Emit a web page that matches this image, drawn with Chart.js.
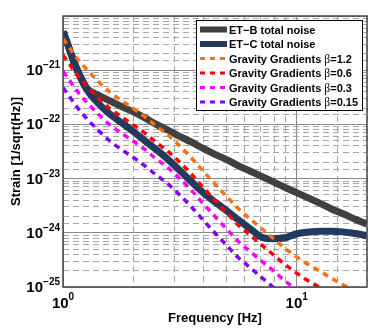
<!DOCTYPE html>
<html>
<head>
<meta charset="utf-8">
<script src="https://cdn.jsdelivr.net/npm/chart.js@4.4.1/dist/chart.umd.min.js"></script>
<style>
  html, body { margin: 0; padding: 0; background: #fff; }
  #wrap { width: 390px; height: 335px; }
</style>
</head>
<body>
<div id="wrap"><canvas id="chart-noise"></canvas></div>
<script>
// frequency grid [Hz]
const freqs = [1, 1.03, 1.06, 1.12, 1.26, 1.41, 1.58, 1.78, 2, 2.24, 2.51, 2.82, 3.16, 3.55, 3.98,
  4.47, 5.01, 5.62, 6.31, 7.08, 7.94, 8.91, 10, 11.2, 12.6, 14.1, 15.8, 17.8, 20];

// strain values
const etB = [5.2e-21, 3.7e-21, 2.6e-21, 1.35e-21, 4.8e-22, 3.5e-22, 2.75e-22, 2.14e-22, 1.7e-22, 1.32e-22,
  1.0e-22, 7.8e-23, 6.0e-23, 4.7e-23, 3.6e-23, 2.8e-23, 2.24e-23, 1.74e-23, 1.38e-23, 1.1e-23,
  8.7e-24, 6.9e-24, 5.5e-24, 4.4e-24, 3.5e-24, 2.75e-24, 2.24e-24, 1.78e-24, 1.45e-24];
const etC = [5.2e-21, 3.7e-21, 2.6e-21, 1.32e-21, 4.5e-22, 2.5e-22, 1.58e-22, 1.07e-22, 7.4e-23, 5.0e-23,
  3.4e-23, 2.24e-23, 1.41e-23, 8.7e-24, 5.5e-24, 3.7e-24, 2.57e-24, 1.74e-24, 1.2e-24, 8.3e-25,
  7.8e-25, 8.1e-25, 9.6e-25, 1.03e-24, 1.07e-24, 1.07e-24, 1.04e-24, 9.7e-25, 8.8e-25];
const gg12 = [3.8e-21, 3.2e-21, 2.7e-21, 1.9e-21, 1.05e-21, 6.3e-22, 4.0e-22, 2.75e-22, 1.95e-22, 1.38e-22,
  9.3e-23, 6.3e-23, 4.0e-23, 2.4e-23, 1.38e-23, 7.9e-24, 4.7e-24, 2.8e-24, 1.82e-24, 1.2e-24,
  7.9e-25, 5.2e-25, 3.6e-25, 2.6e-25, 1.95e-25, 1.45e-25, 1.1e-25, 8.3e-26, 6.3e-26];
const gg06 = [1.9e-21, 1.6e-21, 1.35e-21, 9.5e-22, 5.2e-22, 3.15e-22, 2.0e-22, 1.38e-22, 9.8e-23, 6.9e-23,
  4.6e-23, 3.15e-23, 2.0e-23, 1.2e-23, 6.9e-24, 3.95e-24, 2.35e-24, 1.4e-24, 9.1e-25, 6.0e-25,
  3.95e-25, 2.6e-25, 1.8e-25, 1.3e-25, 9.8e-26, 7.3e-26, 5.5e-26, 4.2e-26, 3.2e-26];
const gg03 = [9.5e-22, 8.0e-22, 6.8e-22, 4.75e-22, 2.6e-22, 1.58e-22, 1.0e-22, 6.9e-23, 4.9e-23, 3.45e-23,
  2.3e-23, 1.58e-23, 1.0e-23, 6.0e-24, 3.45e-24, 2.0e-24, 1.18e-24, 7.0e-25, 4.55e-25, 3.0e-25,
  2.0e-25, 1.3e-25, 9.0e-26, 6.5e-26, 4.9e-26, 3.6e-26, 2.75e-26, 2.1e-26, 1.6e-26];
const gg015 = [4.75e-22, 4.0e-22, 3.4e-22, 2.4e-22, 1.3e-22, 7.9e-23, 5.0e-23, 3.45e-23, 2.45e-23, 1.72e-23,
  1.16e-23, 7.9e-24, 5.0e-24, 3.0e-24, 1.72e-24, 9.9e-25, 5.9e-25, 3.5e-25, 2.3e-25, 1.5e-25,
  9.9e-26, 6.5e-26, 4.5e-26, 3.3e-26, 2.4e-26, 1.8e-26, 1.4e-26, 1.0e-26, 7.9e-27];

const labels = [
  'ET\u2212B total noise',
  'ET\u2212C total noise',
  'Gravity Gradients \u03b2=1.2',
  'Gravity Gradients \u03b2=0.6',
  'Gravity Gradients \u03b2=0.3',
  'Gravity Gradients \u03b2=0.15',
];
const series = [etB, etC, gg12, gg06, gg03, gg015];
const colors = ['#404040', '#233a5e', '#ff7010', '#ff0000', '#ff00ff', '#7f00ff'];
const yDecades = [-25, -24, -23, -22, -21];
const xDecades = [0, 1];

const SANS = '"Liberation Sans", Arial, sans-serif';

const isDecade = (v) => {
  const l = Math.log10(v);
  return Math.abs(l - Math.round(l)) < 1e-6;
};

const datasets = series.map((vals, i) => ({
  label: labels[i],
  data: freqs.map((f, j) => ({ x: f, y: vals[j] })),
  borderColor: colors[i],
  backgroundColor: colors[i],
  borderWidth: i < 2 ? 7 : 3.5,
  borderDash: i < 2 ? [] : [6, 5],
  pointRadius: 0,
  cubicInterpolationMode: 'monotone',
  clip: 0,
  order: 10 - i,
}));

// frame, tick labels, titles and legend are drawn by hand
const decorations = {
  id: 'decorations',
  afterDraw(chart) {
    const { ctx, chartArea: a, scales } = chart;
    ctx.save();

    ctx.strokeStyle = '#4a4a4a';
    ctx.lineWidth = 1.5;
    ctx.strokeRect(a.left, a.top, a.right - a.left, a.bottom - a.top);

    ctx.fillStyle = '#000';
    ctx.textBaseline = 'alphabetic';
    // y tick labels
    yDecades.forEach((e) => {
      const y = scales.y.getPixelForValue(Math.pow(10, e));
      const exp = '\u2212' + Math.abs(e);
      ctx.font = `bold 10px ${SANS}`;
      ctx.textAlign = 'right';
      ctx.fillText(exp, 60, y - 2);
      const w = ctx.measureText(exp).width;
      ctx.font = `bold 15px ${SANS}`;
      ctx.fillText('10', 60 - w, y + 5);
    });
    // x tick labels
    xDecades.forEach((e) => {
      const x = scales.x.getPixelForValue(Math.pow(10, e));
      const exp = String(e);
      ctx.font = `bold 15px ${SANS}`;
      const w1 = ctx.measureText('10').width;
      ctx.font = `bold 10px ${SANS}`;
      const w2 = ctx.measureText(exp).width;
      const x0 = x - (w1 + w2) / 2;
      ctx.textAlign = 'left';
      ctx.font = `bold 15px ${SANS}`;
      ctx.fillText('10', x0, 308);
      ctx.font = `bold 10px ${SANS}`;
      ctx.fillText(exp, x0 + w1, 300);
    });

    // axis titles
    ctx.font = `bold 13px ${SANS}`;
    ctx.textAlign = 'center';
    ctx.fillText('Frequency [Hz]', (a.left + a.right) / 2, 322);
    ctx.save();
    ctx.translate(20, (a.top + a.bottom) / 2);
    ctx.rotate(-Math.PI / 2);
    ctx.fillText('Strain [1/sqrt(Hz)]', 0, 0);
    ctx.restore();

    // legend box
    const bx = 196, by = 20, bw = 166, bh = 90;
    ctx.fillStyle = '#fff';
    ctx.fillRect(bx, by, bw, bh);
    ctx.strokeStyle = '#000';
    ctx.lineWidth = 1;
    ctx.strokeRect(bx + 0.5, by + 0.5, bw, bh);
    labels.forEach((lab, i) => {
      const y = 29.5 + i * 14.5;
      ctx.beginPath();
      ctx.strokeStyle = colors[i];
      ctx.lineWidth = i < 2 ? 6 : 3;
      ctx.setLineDash(i < 2 ? [] : [5, 5]);
      ctx.moveTo(200, y);
      ctx.lineTo(227, y);
      ctx.stroke();
      ctx.setLineDash([]);
      ctx.fillStyle = '#000';
      ctx.textAlign = 'left';
      const parts = lab.split('\u03b2');
      let x = 229;
      ctx.font = `bold 11px ${SANS}`;
      ctx.fillText(parts[0], x, y + 4);
      if (parts.length > 1) {
        x += ctx.measureText(parts[0]).width;
        ctx.font = '11.5px "Liberation Serif", serif';
        ctx.fillText('\u03b2', x, y + 4);
        x += ctx.measureText('\u03b2').width;
        ctx.font = `bold 11px ${SANS}`;
        ctx.fillText(parts[1], x, y + 4);
      }
    });
    ctx.restore();
  },
};

const gridColor = (c) => (c.tick && isDecade(c.tick.value) ? '#8a8a8a' : '#a6a6a6');
const gridDash = (c) => (c.tick && isDecade(c.tick.value) ? [] : [6, 4]);

new Chart(document.getElementById('chart-noise'), {
  type: 'line',
  data: { datasets },
  plugins: [decorations],
  options: {
    responsive: true,
    maintainAspectRatio: false,
    animation: false,
    layout: { padding: { left: 63, right: 23, top: 16, bottom: 48 } },
    scales: {
      x: {
        type: 'logarithmic',
        min: 1,
        max: 20,
        ticks: { display: false },
        grid: { color: gridColor, lineWidth: 1, drawTicks: false },
        border: { display: false, dash: gridDash },
      },
      y: {
        type: 'logarithmic',
        min: 1e-25,
        max: 1e-20,
        ticks: { display: false },
        grid: { color: gridColor, lineWidth: 1, drawTicks: false },
        border: { display: false, dash: gridDash },
      },
    },
    plugins: {
      legend: { display: false },
      tooltip: { enabled: false },
    },
  },
});
</script>
</body>
</html>
